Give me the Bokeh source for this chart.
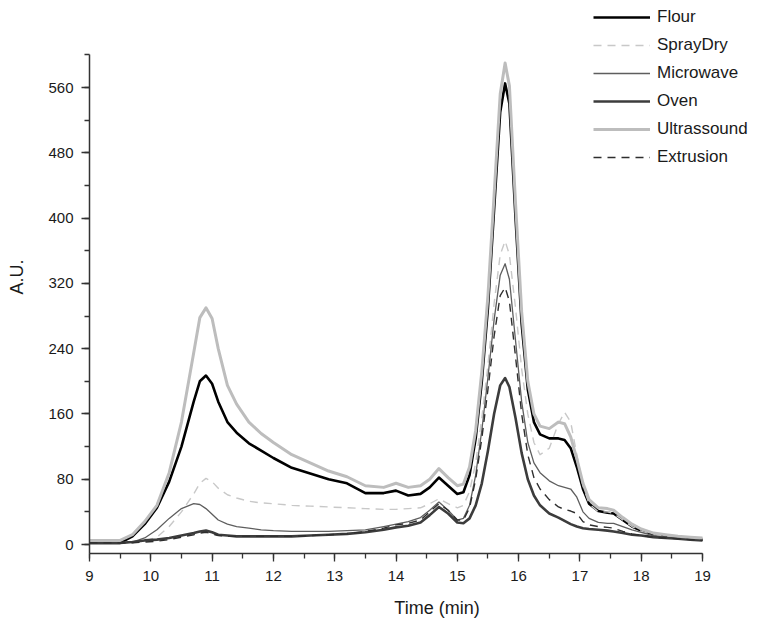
from bokeh.plotting import figure
from bokeh.models import (ColumnDataSource, Range1d, SingleIntervalTicker, Legend, LegendItem)
from bokeh.embed import file_html
from bokeh.resources import INLINE

time = [9.0, 9.3, 9.5, 9.7, 9.9, 10.1, 10.3, 10.5, 10.7, 10.8, 10.9, 11.0, 11.1, 11.25, 11.4,
        11.6, 11.8, 12.0, 12.3, 12.6, 12.9, 13.2, 13.5, 13.8, 14.0, 14.2, 14.4, 14.55, 14.7,
        14.85, 15.0, 15.1, 15.2, 15.3, 15.4, 15.5, 15.6, 15.7, 15.78, 15.85, 15.95, 16.05,
        16.15, 16.25, 16.35, 16.5, 16.65, 16.75, 16.85, 16.95, 17.05, 17.15, 17.3, 17.45,
        17.55, 17.7, 17.85, 18.0, 18.2, 18.4, 18.6, 18.8, 19.0]

flour = [2, 2, 2, 10, 25, 45, 77, 120, 175, 200, 207, 197, 175, 150, 137,
         124, 115, 106, 94, 87, 80, 75, 63, 63, 66, 60, 62, 70, 82,
         72, 62, 64, 85, 130, 200, 290, 410, 530, 565, 540, 400, 270,
         190, 150, 135, 130, 130, 128, 118, 95, 68, 50, 41, 39,
         38, 30, 22, 17, 12, 10, 8, 7, 6]

spraydry = [2, 2, 2, 2, 4, 9, 22, 40, 62, 75, 81, 77, 69, 61, 57,
            53, 51, 50, 48, 47, 46, 45, 44, 43, 43, 44, 45, 50, 56,
            50, 45, 48, 65, 100, 155, 220, 295, 355, 372, 355, 290, 215,
            160, 125, 110, 118, 148, 162, 150, 110, 72, 50, 40, 40,
            38, 30, 22, 16, 12, 10, 9, 8, 8]

microwave = [2, 2, 2, 3, 8, 18, 32, 44, 50, 49, 44, 37, 30, 25, 22,
             20, 18, 17, 16, 16, 16, 17, 18, 22, 25, 28, 33, 42, 52,
             42, 30, 32, 48, 85, 140, 205, 275, 330, 344, 325, 250, 175,
             125, 100, 88, 78, 72, 70, 68, 58, 40, 32, 27, 26,
             26, 22, 18, 15, 11, 9, 8, 7, 6]

oven = [2, 2, 2, 3, 5, 6, 8, 11, 14, 16, 17, 15, 12, 11, 10,
        10, 10, 10, 10, 11, 12, 13, 15, 18, 21, 23, 27, 36, 46,
        38, 27, 26, 32, 48, 75, 115, 160, 195, 204, 193, 155, 112,
        80, 60, 48, 38, 33, 29, 25, 22, 20, 19, 18, 17,
        16, 14, 12, 11, 9, 8, 7, 6, 5]

ultrassound = [5, 5, 5, 12, 28, 48, 88, 150, 235, 278, 290, 277, 240, 195, 172,
               150, 136, 125, 110, 100, 90, 83, 72, 70, 75, 70, 72, 80, 93,
               82, 72, 74, 95, 140, 212, 305, 428, 552, 590, 562, 418, 285,
               200, 160, 145, 142, 150, 148, 132, 105, 75, 55, 45, 44,
               42, 33, 25, 19, 14, 12, 10, 9, 8]

extrusion = [2, 2, 2, 2, 3, 4, 6, 9, 12, 14, 15, 13, 11, 10, 10,
             10, 10, 10, 10, 11, 12, 13, 16, 20, 24, 26, 30, 40, 50,
             42, 30, 30, 45, 80, 130, 190, 255, 305, 315, 298, 230, 160,
             110, 82, 68, 55, 46, 43, 41, 38, 28, 24, 22, 21,
             20, 16, 13, 11, 9, 8, 7, 6, 5]

series_names = ["Flour", "SprayDry", "Microwave", "Oven", "Ultrassound", "Extrusion"]
series_values = [flour, spraydry, microwave, oven, ultrassound, extrusion]
series_colors = ["#000000", "#c8c8c8", "#5e5e5e", "#3c3c3c", "#bdbdbd", "#2e2e2e"]
series_widths = [2.6, 1.4, 1.3, 2.6, 3.0, 1.4]
series_dash = ["solid", "8 6", "solid", "solid", "solid", "8 6"]

FONT = "Liberation Sans"

# pixel scale: 61.3 px per minute, 0.81607 px per A.U.
x_end = 9 + 695 / 61.3
y_top = 544 / 0.81607
y_bot = -9 / 0.81607

p = figure(width=784, height=625, output_backend="svg", toolbar_location=None,
           frame_width=695, frame_height=553,
           min_border_left=89, min_border_right=0, min_border_top=0, min_border_bottom=72,
           x_range=Range1d(9, x_end), y_range=Range1d(y_bot, y_top))
p.outline_line_color = None
p.xgrid.visible = False
p.ygrid.visible = False
p.background_fill_color = "white"
p.border_fill_color = "white"

items = []
for name, vals, col, w, d in zip(series_names, series_values, series_colors, series_widths, series_dash):
    src = ColumnDataSource(dict(t=time, v=vals))
    r = p.line("t", "v", source=src, line_color=col, line_width=w, line_dash=d,
               line_join="round")
    items.append(LegendItem(label=name, renderers=[r]))

legend = Legend(items=items, location=(504, 386), orientation="vertical",
                padding=0, margin=0, spacing=8, glyph_width=57, glyph_height=20,
                label_height=20, label_standoff=7, label_text_font=FONT,
                label_text_font_size="17px", label_text_color="#1a1a1a",
                background_fill_alpha=0, border_line_color=None)
p.add_layout(legend, "center")

p.xaxis.ticker = SingleIntervalTicker(interval=1, num_minor_ticks=2)
p.yaxis.ticker = SingleIntervalTicker(interval=80, num_minor_ticks=2)
p.xaxis.bounds = (9, 19)
p.yaxis.bounds = (y_bot, 600)
for ax in (p.xaxis[0], p.yaxis[0]):
    ax.axis_line_color = "#333333"
    ax.axis_line_width = 1.5
    ax.major_tick_line_color = "#333333"
    ax.minor_tick_line_color = "#333333"
    ax.major_tick_line_width = 1.3
    ax.minor_tick_line_width = 1.3
    ax.major_tick_in = 0
    ax.major_tick_out = 8
    ax.minor_tick_in = 0
    ax.minor_tick_out = 5
    ax.major_label_text_font = FONT
    ax.major_label_text_font_size = "15px"
    ax.major_label_text_color = "#1a1a1a"
    ax.axis_label_text_font = FONT
    ax.axis_label_text_font_size = "18px"
    ax.axis_label_text_font_style = "normal"
    ax.axis_label_text_color = "#1a1a1a"

p.xaxis.axis_label = "Time (min)"
p.yaxis.axis_label = "A.U."
p.xaxis.major_label_standoff = 9
p.yaxis.major_label_standoff = 8
p.xaxis.axis_label_standoff = 14
p.yaxis.axis_label_standoff = 18

open("out.html", "w").write(file_html(p, INLINE))
